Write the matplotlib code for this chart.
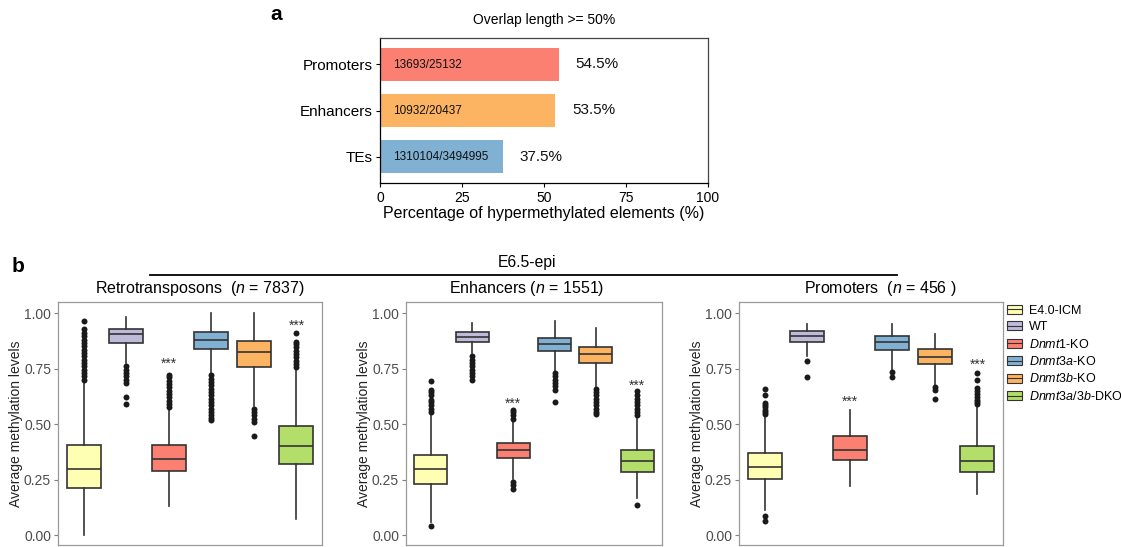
import matplotlib
matplotlib.use("Agg")
import matplotlib.pyplot as plt
from matplotlib.patches import Patch
from matplotlib.lines import Line2D

plt.rcParams['font.family'] = ['Liberation Sans', 'DejaVu Sans']
plt.rcParams['mathtext.fontset'] = 'custom'
plt.rcParams['mathtext.it'] = 'Liberation Sans:italic'
plt.rcParams['mathtext.rm'] = 'Liberation Sans'

# ---- panel a data
elements = ['Promoters', 'Enhancers', 'TEs']
hyper_pct = [54.5, 53.5, 37.5]
hyper_counts = ['13693/25132', '10932/20437', '1310104/3494995']

# ---- panel b data (box stats)
groups = ['E4.0-ICM', r'WT', r'$\it{Dnmt1}$-KO', r'$\it{Dnmt3a}$-KO',
          r'$\it{Dnmt3b}$-KO', r'$\it{Dnmt3a/3b}$-DKO']

retro_whislo = [0.0, 0.777, 0.131, 0.732, 0.580, 0.072]
retro_q1 = [0.212, 0.864, 0.287, 0.837, 0.755, 0.320]
retro_med = [0.296, 0.904, 0.342, 0.879, 0.824, 0.401]
retro_q3 = [0.404, 0.927, 0.404, 0.913, 0.873, 0.490]
retro_whishi = [0.685, 0.983, 0.565, 0.999, 1.0, 0.744]
retro_fliers = [
    [0.70, 0.715, 0.73, 0.745, 0.76, 0.775, 0.79, 0.805, 0.82, 0.835, 0.85, 0.865, 0.88, 0.895, 0.91, 0.93, 0.965],
    [0.685, 0.70, 0.715, 0.73, 0.745, 0.76, 0.622, 0.592],
    [0.575, 0.59, 0.605, 0.62, 0.635, 0.65, 0.665, 0.68, 0.695, 0.71, 0.72],
    [0.72, 0.705, 0.69, 0.675, 0.66, 0.645, 0.63, 0.615, 0.60, 0.585, 0.57, 0.555, 0.54, 0.528, 0.517],
    [0.57, 0.555, 0.54, 0.525, 0.51, 0.445],
    [0.755, 0.77, 0.785, 0.80, 0.815, 0.83, 0.845, 0.86, 0.871, 0.909],
]
retro_stars = [0.79, 0.96]

enh_whislo = [0.057, 0.819, 0.251, 0.741, 0.673, 0.169]
enh_q1 = [0.232, 0.869, 0.347, 0.827, 0.777, 0.286]
enh_med = [0.296, 0.894, 0.383, 0.862, 0.816, 0.332]
enh_q3 = [0.359, 0.913, 0.416, 0.889, 0.849, 0.384]
enh_whishi = [0.543, 0.954, 0.513, 0.966, 0.931, 0.528]
enh_fliers = [
    [0.04, 0.555, 0.57, 0.585, 0.60, 0.61, 0.632, 0.645, 0.655, 0.692],
    [0.805, 0.79, 0.775, 0.76, 0.745, 0.73, 0.715, 0.70],
    [0.525, 0.54, 0.555, 0.565, 0.24, 0.225, 0.206],
    [0.73, 0.715, 0.70, 0.685, 0.67, 0.655, 0.599],
    [0.66, 0.645, 0.63, 0.615, 0.60, 0.585, 0.57, 0.555, 0.547],
    [0.54, 0.555, 0.57, 0.585, 0.60, 0.615, 0.63, 0.647, 0.136],
]
enh_stars = [0.61, 0.69]

prom_whislo = [0.114, 0.807, 0.221, 0.744, 0.677, 0.187]
prom_q1 = [0.254, 0.871, 0.338, 0.834, 0.771, 0.286]
prom_med = [0.308, 0.897, 0.383, 0.869, 0.804, 0.335]
prom_q3 = [0.368, 0.921, 0.445, 0.898, 0.839, 0.399]
prom_whishi = [0.535, 0.949, 0.565, 0.951, 0.904, 0.577]
prom_fliers = [
    [0.084, 0.061, 0.545, 0.555, 0.565, 0.575, 0.585, 0.595, 0.632, 0.658],
    [0.782, 0.714],
    [],
    [0.733, 0.711],
    [0.665, 0.655, 0.614],
    [0.59, 0.60, 0.61, 0.62, 0.635, 0.65, 0.662, 0.70, 0.73],
]
prom_stars = [0.617, 0.782]
star_boxes = [3, 6]

W, H = 1121, 547
fig = plt.figure(figsize=(W / 100, H / 100), dpi=100)


def px_axes(l, t, r, b):
    return fig.add_axes([l / W, 1 - b / H, (r - l) / W, (b - t) / H])


# ---------------- panel a
bar_colors = ['#FB8072', '#FDB462', '#80B1D3']
ax = px_axes(380, 38, 708, 183)
ypos = [2, 1, 0]
ax.barh(ypos, hyper_pct, height=0.72, color=bar_colors)
for y, p, c in zip(ypos, hyper_pct, hyper_counts):
    ax.text(4, y - 0.02, c, va='center', ha='left', fontsize=8.5, color='#111111')
    ax.text(p + 5, y, f'{p}%', va='center', ha='left', fontsize=11, color='#111111')
ax.set_xlim(0, 100)
ax.set_ylim(-0.576, 2.576)
ax.set_yticks(ypos)
ax.set_yticklabels(elements, fontsize=11, color='black')
ax.set_xticks([0, 25, 50, 75, 100])
ax.set_xticklabels(['0', '25', '50', '75', '100'], fontsize=10, color='black')
ax.tick_params(length=3, width=0.8, pad=2.5, color='black')
ax.set_xlabel('Percentage of hypermethylated elements (%)', fontsize=11.5, labelpad=1)
for s in ['top', 'right']:
    ax.spines[s].set_color('#444444')
for s in ['left', 'bottom']:
    ax.spines[s].set_color('black')
for s in ax.spines.values():
    s.set_linewidth(0.9)
fig.text(544 / W, 1 - 20 / H, 'Overlap length >= 50%', ha='center', va='center', fontsize=10)
fig.text(276 / W, 1 - 15 / H, 'a', ha='center', va='center', fontsize=15, fontweight='bold')

# ---------------- panel b
box_colors = ['#FFFFB3', '#BEBADA', '#FB8072', '#80B1D3', '#FDB462', '#B3DE69']
edge = '#333333'

panels = [
    ((58, 302, 322, 545), retro_whislo, retro_q1, retro_med, retro_q3, retro_whishi, retro_fliers, retro_stars),
    ((406, 302, 662, 545), enh_whislo, enh_q1, enh_med, enh_q3, enh_whishi, enh_fliers, enh_stars),
    ((739, 302, 1003, 545), prom_whislo, prom_q1, prom_med, prom_q3, prom_whishi, prom_fliers, prom_stars),
]

for rect, wlo, q1, med, q3, whi, fl, stars in panels:
    ax = px_axes(*rect)
    stats = []
    for i in range(6):
        stats.append(dict(whislo=wlo[i], q1=q1[i], med=med[i], q3=q3[i], whishi=whi[i], fliers=fl[i]))
    bp = ax.bxp(stats, positions=range(1, 7), widths=0.8, patch_artist=True, showcaps=False,
                boxprops=dict(edgecolor=edge, linewidth=1.2),
                whiskerprops=dict(color=edge, linewidth=1.2),
                medianprops=dict(color=edge, linewidth=1.2),
                flierprops=dict(marker='o', markerfacecolor='#1a1a1a', markeredgecolor='none', markersize=4.3))
    for patch, c in zip(bp['boxes'], box_colors):
        patch.set_facecolor(c)
    for b, sy in zip(star_boxes, stars):
        ax.annotate('***', (b, sy), xytext=(0, -5.5), textcoords='offset points',
                    ha='center', va='baseline', fontsize=10, color='#333333')
    ax.set_xlim(0.4, 6.6)
    ax.set_ylim(-0.045, 1.05)
    ax.set_xticks([])
    ax.set_yticks([0, 0.25, 0.5, 0.75, 1.0])
    ax.set_yticklabels(['0.00', '0.25', '0.50', '0.75', '1.00'], fontsize=10, color='#4D4D4D')
    ax.tick_params(axis='y', length=3, width=0.8, color='#7F7F7F', pad=2)
    ax.set_ylabel('Average methylation levels', fontsize=10, color='#222222', labelpad=1)
    for s in ax.spines.values():
        s.set_color('#9A9A9A')
        s.set_linewidth(0.9)

fig.text(200 / W, 1 - 289 / H, r'Retrotransposons  ($\it{n}$ = 7837)', ha='center', va='center', fontsize=11.5)
fig.text(527 / W, 1 - 289 / H, r'Enhancers ($\it{n}$ = 1551)', ha='center', va='center', fontsize=11.5)
fig.text(880 / W, 1 - 289 / H, r'Promoters  ($\it{n}$ = 456 )', ha='center', va='center', fontsize=11.5)
fig.text(527 / W, 1 - 262 / H, 'E6.5-epi', ha='center', va='center', fontsize=11.3)
fig.add_artist(Line2D([150 / W, 897 / W], [1 - 275 / H, 1 - 275 / H], color='black', lw=1.3))
fig.text(18 / W, 1 - 266 / H, 'b', ha='center', va='center', fontsize=15, fontweight='bold')

handles = [(Patch(facecolor=c, edgecolor=edge, linewidth=0.8), Line2D([], [], color=edge, lw=0.8))
           for c in box_colors]
fig.legend(handles, groups, loc='upper left', bbox_to_anchor=(1004 / W, 1 - 302 / H),
           frameon=False, fontsize=9, handlelength=1.2, handleheight=0.75,
           labelspacing=0.36, handletextpad=0.6, borderaxespad=0, borderpad=0.2)

fig.savefig('out.png', dpi=100)
